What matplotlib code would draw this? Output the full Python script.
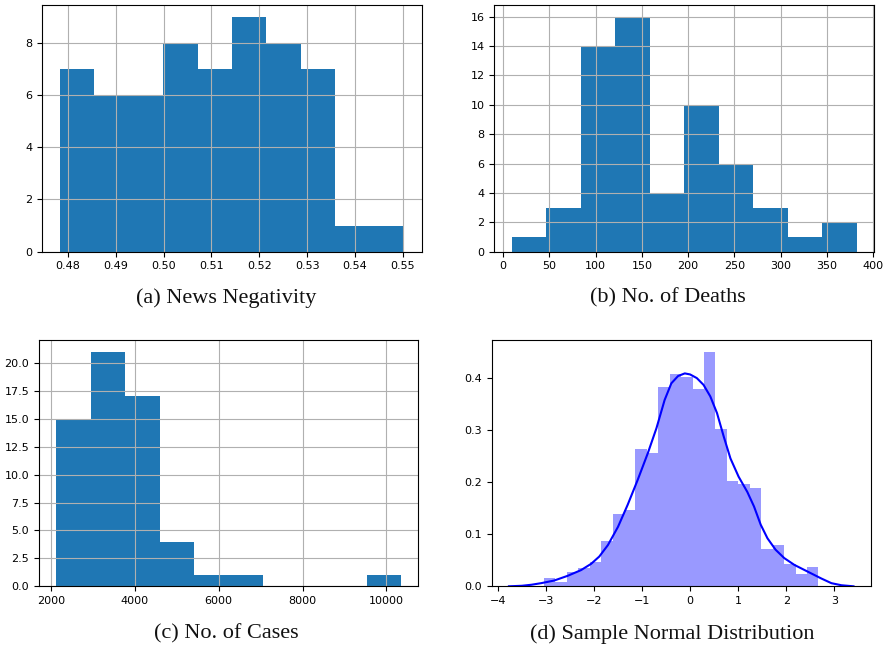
"""
Four-panel figure: three pandas-style histograms and a seaborn-style distplot.
Saves out.png (886x649).
"""
import numpy as np
import matplotlib
matplotlib.use("Agg")
import matplotlib.pyplot as plt

# ── data ─────────────────────────────────────────────────────────────────────
# (a) News Negativity: 10 equal bins between these limits
neg_range  = (0.47825, 0.55034)
neg_counts = [7, 6, 6, 8, 7, 9, 8, 7, 1, 1]

# (b) No. of Deaths
death_range  = (9.1, 382.4)
death_counts = [1, 3, 14, 16, 4, 10, 6, 3, 1, 2]

# (c) No. of Cases
case_range  = (2126, 10348)
case_counts = [15, 21, 17, 4, 1, 1, 0, 0, 0, 1]

# (d) Sample normal distribution: 24 density bins + kde curve
norm_range   = (-3.04, 2.67)
norm_density = [0.015, 0.008, 0.028, 0.036, 0.046, 0.087, 0.138, 0.146,
                0.264, 0.256, 0.382, 0.407, 0.402, 0.378, 0.449, 0.302,
                0.201, 0.197, 0.188, 0.071, 0.079, 0.042, 0.024, 0.037]
kde_x = [-3.77, -3.5, -3.3, -3.10, -2.83, -2.55, -2.27, -2.06, -1.89, -1.71,
         -1.50, -1.30, -1.09, -0.88, -0.70, -0.53, -0.39, -0.25, -0.11, 0.00,
         0.14, 0.28, 0.42, 0.56, 0.70, 0.84, 1.01, 1.19, 1.33, 1.47,
         1.61, 1.78, 1.96, 2.17, 2.45, 2.73, 2.94, 3.15, 3.4]
kde_y = [0.000, 0.001, 0.003, 0.006, 0.011, 0.020, 0.031, 0.043, 0.057, 0.079,
         0.114, 0.156, 0.204, 0.255, 0.303, 0.357, 0.389, 0.403, 0.408, 0.406,
         0.399, 0.386, 0.364, 0.332, 0.287, 0.245, 0.210, 0.181, 0.153, 0.118,
         0.092, 0.070, 0.054, 0.041, 0.028, 0.015, 0.006, 0.002, 0.000]

captions = ["(a) News Negativity", "(b) No. of Deaths",
            "(c) No. of Cases", "(d) Sample Normal Distribution"]

# ── layout in pixels (left, right, top, bottom) ──────────────────────────────
W, H = 886, 649
boxes = [(42.3, 421.7, 5, 251.7), (494.3, 874, 5, 251.7),
         (39, 418.3, 340, 586.3), (491.7, 870.7, 340, 586.3)]

fig = plt.figure(figsize=(W / 100, H / 100), dpi=100)
axes = []
for l, r, t, b in boxes:
    ax = fig.add_axes([l / W, (H - b) / H, (r - l) / W, (b - t) / H])
    ax.tick_params(labelsize=8, length=3.5, width=0.8)
    for s in ax.spines.values():
        s.set_linewidth(0.8)
    axes.append(ax)


def pandas_hist(ax, rng, counts):
    edges = np.linspace(rng[0], rng[1], len(counts) + 1)
    ax.bar(edges[:-1], counts, width=np.diff(edges), align="edge",
           color="#1f77b4", linewidth=0)
    ax.grid(True, color="#b0b0b0", linewidth=0.8)


pandas_hist(axes[0], neg_range, neg_counts)
axes[0].set_xticks([0.48, 0.49, 0.50, 0.51, 0.52, 0.53, 0.54, 0.55])
axes[0].set_yticks([0, 2, 4, 6, 8])

pandas_hist(axes[1], death_range, death_counts)
axes[1].set_xticks(range(0, 401, 50))
axes[1].set_yticks(range(0, 17, 2))

pandas_hist(axes[2], case_range, case_counts)
axes[2].set_xticks(range(2000, 10001, 2000))
axes[2].set_yticks([0, 2.5, 5, 7.5, 10, 12.5, 15, 17.5, 20])
axes[2].yaxis.set_major_formatter(matplotlib.ticker.FormatStrFormatter("%.1f"))

# distplot-like panel
ax = axes[3]
edges = np.linspace(norm_range[0], norm_range[1], len(norm_density) + 1)
ax.bar(edges[:-1], norm_density, width=np.diff(edges), align="edge",
       color="blue", alpha=0.4, linewidth=0)
ax.plot(kde_x, kde_y, color="blue", linewidth=1.5, solid_joinstyle="round")
ax.set_xticks(range(-4, 4))
ax.set_yticks([0.0, 0.1, 0.2, 0.3, 0.4])
ax.set_ylim(0, 0.472)

# captions under each panel
cap_pos = [(226, 298), (668, 298), (226, 634), (672, 634)]
for (x, y), txt in zip(cap_pos, captions):
    fig.text(x / W, 1 - y / H, txt, ha="center", va="center",
             fontsize=16, family="Liberation Serif", color="#111111")

fig.savefig("out.png", dpi=100)
